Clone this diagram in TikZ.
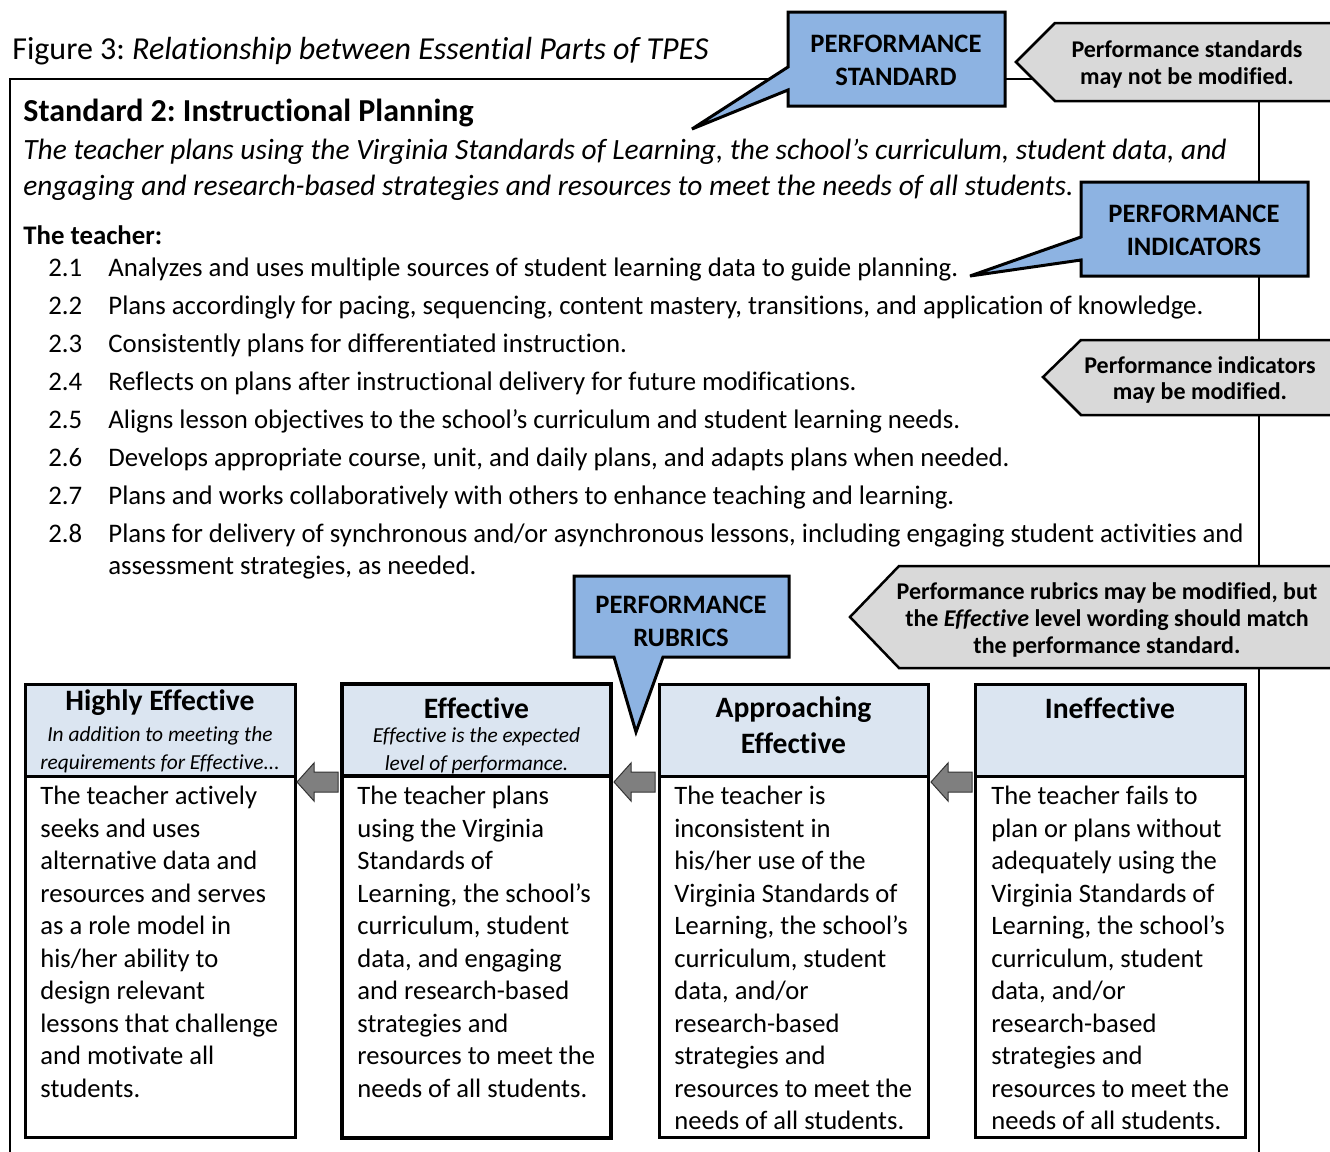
\documentclass[tikz,border=0pt]{standalone}
\usepackage{fontspec}
\setmainfont{Carlito}[Ligatures=NoCommon]
\frenchspacing

\definecolor{calloutblue}{HTML}{8DB3E2}
\definecolor{notegray}{HTML}{D9D9D9}
\definecolor{headblue}{HTML}{DBE5F1}
\definecolor{arrowgray}{HTML}{7F7F7F}

\tikzset{
  bluecallout/.style={draw=black, line width=1.5pt, fill=calloutblue, line join=miter},
  graynote/.style={draw=black, line width=1.25pt, fill=notegray},
  levelbox/.style={draw=black, line width=1.5pt},
  blockarrow/.style={draw=black!80, line width=0.5pt, fill=arrowgray},
  callouttext/.style={font=\fontsize{13.3}{16.5}\selectfont\bfseries, align=center, inner sep=0pt},
  notetext/.style={font=\fontsize{12}{13.3}\selectfont\bfseries, align=center, inner sep=0pt},
  itemtext/.style={font=\fontsize{13.4}{16}\selectfont, anchor=base west, inner sep=0pt},
  levelhead/.style={font=\fontsize{14.8}{18}\selectfont\bfseries, align=center, inner sep=0pt},
  levelsub/.style={font=\fontsize{10.7}{14}\selectfont\itshape, align=center, inner sep=0pt},
  levelbody/.style={font=\fontsize{13.3}{16.25}\selectfont, align=left, anchor=north west, inner sep=0pt},
}

\begin{document}
\begin{tikzpicture}[x=0.5pt,y=-0.5pt]
    \useasboundingbox (0,0) rectangle (1330,1152);

    % Outer frame of the standard
    \draw[line width=1pt] (10,1170) -- (10,79) -- (1259,79) -- (1259,1170);

    % Gray notes at the right
    \draw[graynote] (1016,62) -- (1055,23) -- (1345,23) -- (1345,101) -- (1055,101) -- cycle;
    \draw[graynote] (1043,377) -- (1081,340) -- (1345,340) -- (1345,415) -- (1081,415) -- cycle;
    \draw[graynote] (850,617) -- (899,566) -- (1345,566) -- (1345,668) -- (899,668) -- cycle;
    \node[notetext] (note-std) at (1187,64.5) {Performance standards\\may not be modified.};
    \node[notetext] (note-ind) at (1200,380) {Performance indicators\\may be modified.};
    \node[notetext] (note-rub) at (1107,620) {Performance rubrics may be modified, but\\the \textit{Effective} level wording should match\\the performance standard.};

    % Blue callouts with pointers
    \draw[bluecallout] (788,12) -- (1005,12) -- (1005,106) -- (788,106) -- (788,90) -- (692,129) -- (788,67) -- cycle;
    \draw[bluecallout] (1081,182) -- (1308,182) -- (1308,276) -- (1081,276) -- (1081,260) -- (970,276) -- (1081,237) -- cycle;
    \draw[bluecallout] (574,576) -- (789,576) -- (789,657) -- (663,657) -- (636,732) -- (614,657) -- (574,657) -- cycle;
    \node[callouttext] (perf-std) at (896,60.5) {PERFORMANCE\\STANDARD};
    \node[callouttext] (perf-ind) at (1194,230.5) {PERFORMANCE\\INDICATORS};
    \node[callouttext] (perf-rub) at (681,621) {PERFORMANCE\\RUBRICS};

    % Title and standard
    \node[anchor=base west, inner sep=0pt, font=\fontsize{16}{19}\selectfont] (title) at (12,59)
      {Figure 3: \textit{Relationship between Essential Parts of TPES}};
    \node[anchor=base west, inner sep=0pt, font=\fontsize{16}{19}\selectfont\bfseries] (std) at (23,121)
      {Standard 2: Instructional Planning};
    \node[anchor=base west, inner sep=0pt, font=\fontsize{14.7}{18}\selectfont\itshape] (desc1) at (23,159)
      {The teacher plans using the Virginia Standards of Learning, the school’s curriculum, student data, and};
    \node[anchor=base west, inner sep=0pt, font=\fontsize{14.7}{18}\selectfont\itshape] (desc2) at (23,195)
      {engaging and research-based strategies and resources to meet the needs of all students.};
    \node[itemtext, font=\fontsize{13.4}{16}\selectfont\bfseries] (teacher) at (23,244) {The teacher:};

    % Performance indicators
    \foreach \n/\txt [count=\i from 0] in {
        2.1/{Analyzes and uses multiple sources of student learning data to guide planning.},
        2.2/{Plans accordingly for pacing, sequencing, content mastery, transitions, and application of knowledge.},
        2.3/{Consistently plans for differentiated instruction.},
        2.4/{Reflects on plans after instructional delivery for future modifications.},
        2.5/{Aligns lesson objectives to the school’s curriculum and student learning needs.},
        2.6/{Develops appropriate course, unit, and daily plans, and adapts plans when needed.},
        2.7/{Plans and works collaboratively with others to enhance teaching and learning.},
        2.8/{Plans for delivery of synchronous and/or asynchronous lessons, including engaging student activities and}} {
      \node[itemtext] (num\i) at (48,276+38*\i) {\n};
      \node[itemtext] (item\i) at (108,276+38*\i) {\txt};
    }
    \node[itemtext] (item7b) at (108,574) {assessment strategies, as needed.};

    % Rubric level boxes
    \draw[levelbox, fill=headblue] (25,684) rectangle (295,776);
    \draw[levelbox] (25,776) rectangle (295,1137);
    \draw[levelbox, line width=2pt, fill=headblue] (342,684) rectangle (611,776);
    \draw[levelbox, line width=2pt] (342,776) rectangle (611,1138);
    \draw[levelbox, fill=headblue] (659,684) rectangle (928,776);
    \draw[levelbox] (659,776) rectangle (928,1137);
    \draw[levelbox, fill=headblue] (975,684) rectangle (1245,776);
    \draw[levelbox] (975,776) rectangle (1245,1137);

    % Arrows between levels
    \foreach \t in {297, 614, 931} {
      \coordinate (tip\t) at (\t,782);
      \draw[blockarrow] (tip\t) -- ++(17,-19) -- ++(0,9) -- ++(24,0) -- ++(0,20) -- ++(-24,0) -- ++(0,9) -- cycle;
    }

    % Level headers
    \node[levelhead] (he-head) at (160,703) {Highly Effective};
    \node[levelsub] (he-sub) at (160,749.5) {In addition to meeting the\\requirements for Effective...};
    \node[levelhead] (ef-head) at (476.5,708) {Effective};
    \node[levelsub] (ef-sub) at (476.5,750.5) {\textit{Effective} is the expected\\level of performance.};
    \node[levelhead] (ap-head) at (793.5,725.5) {Approaching\\Effective};
    \node[levelhead] (in-head) at (1110,708) {Ineffective};

    % Level descriptions
    \node[levelbody] (he-body) at (40,786) {The teacher actively\\seeks and uses\\alternative data and\\resources and serves\\as a role model in\\his/her ability to\\design relevant\\lessons that challenge\\and motivate all\\students.};
    \node[levelbody] (ef-body) at (357,786) {The teacher plans\\using the Virginia\\Standards of\\Learning, the school’s\\curriculum, student\\data, and engaging\\and research-based\\strategies and\\resources to meet the\\needs of all students.};
    \node[levelbody] (ap-body) at (674,786) {The teacher is\\inconsistent in\\his/her use of the\\Virginia Standards of\\Learning, the school’s\\curriculum, student\\data, and/or\\research-based\\strategies and\\resources to meet the\\needs of all students.};
    \node[levelbody] (in-body) at (991,786) {The teacher fails to\\plan or plans without\\adequately using the\\Virginia Standards of\\Learning, the school’s\\curriculum, student\\data, and/or\\research-based\\strategies and\\resources to meet the\\needs of all students.};
\end{tikzpicture}
\end{document}
